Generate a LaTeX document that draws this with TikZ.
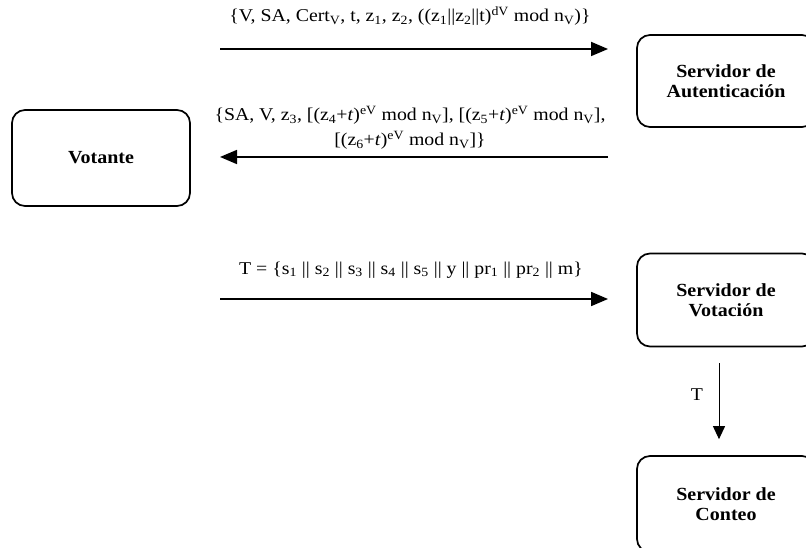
\documentclass[tikz,border=0pt]{standalone}
\usepackage{fontspec}
\setmainfont{Liberation Serif}
\newfontfamily\boxfont{Liberation Serif}[FakeStretch=1.08]
\newfontfamily\labelfont{Liberation Serif}[FakeStretch=1.1]
\usetikzlibrary{arrows.meta}
\begin{document}
\begin{tikzpicture}[x=1pt,y=-1pt,
  entity/.style={draw, line width=1.7pt, rounded corners=13pt,
    minimum width=178pt, align=center, inner sep=0pt,
    font=\boxfont\fontsize{18.5}{20.5}\selectfont\bfseries},
  msg/.style={line width=1.8pt, -{Triangle[length=17pt,width=14pt]}},
  flow/.style={line width=1pt, -{Triangle[length=13pt,width=12pt]}},
  lbl/.style={inner sep=0pt, align=center, font=\labelfont\fontsize{18}{25}\selectfont},
]
\useasboundingbox (0,0) rectangle (806,548);
\clip (0,0) rectangle (806,548);

% participants
\node[entity, minimum height=96pt] (votante) at (101,158) {Votante};
\node[entity, minimum height=92pt] (auth) at (726,81) {Servidor de\\Autenticación};
\node[entity, minimum height=93pt] (votacion) at (726,300) {Servidor de\\Votación};
\node[entity, minimum height=96pt] (conteo) at (726,504) {Servidor de\\Conteo};

% message end points
\coordinate (m1s) at (220,49);  \coordinate (m1e) at (608,49);
\coordinate (m2s) at (608,157); \coordinate (m2e) at (220,157);
\coordinate (m3s) at (220,299); \coordinate (m3e) at (608,299);

% messages
\draw[msg] (m1s) -- (m1e);
\node[lbl] (l1) at (410,16) {\{V, SA, Cert\textsubscript{V}, t, z\textsubscript{1}, z\textsubscript{2}, ((z\textsubscript{1}||z\textsubscript{2}||t)\textsuperscript{dV} mod n\textsubscript{V})\}};

\draw[msg] (m2s) -- (m2e);
\node[lbl] (l2) at (410,128) {\{SA, V, z\textsubscript{3}, [(z\textsubscript{4}+\textit{t})\textsuperscript{eV} mod n\textsubscript{V}], [(z\textsubscript{5}+\textit{t})\textsuperscript{eV} mod n\textsubscript{V}],\\
{[}(z\textsubscript{6}+\textit{t})\textsuperscript{eV} mod n\textsubscript{V}]\}};

\draw[msg] (m3s) -- (m3e);
\node[lbl] (l3) at (411,270) {T = \{s\textsubscript{1} || s\textsubscript{2} || s\textsubscript{3} || s\textsubscript{4} || s\textsubscript{5} || y || pr\textsubscript{1} || pr\textsubscript{2} || m\}};

% forwarding to the counting server
\draw[flow, shorten <=16pt, shorten >=16pt] ([xshift=-7pt]votacion.south) -- ([xshift=-7pt]conteo.north);
\node[lbl] (lt) at (697,395) {T};
\end{tikzpicture}
\end{document}
